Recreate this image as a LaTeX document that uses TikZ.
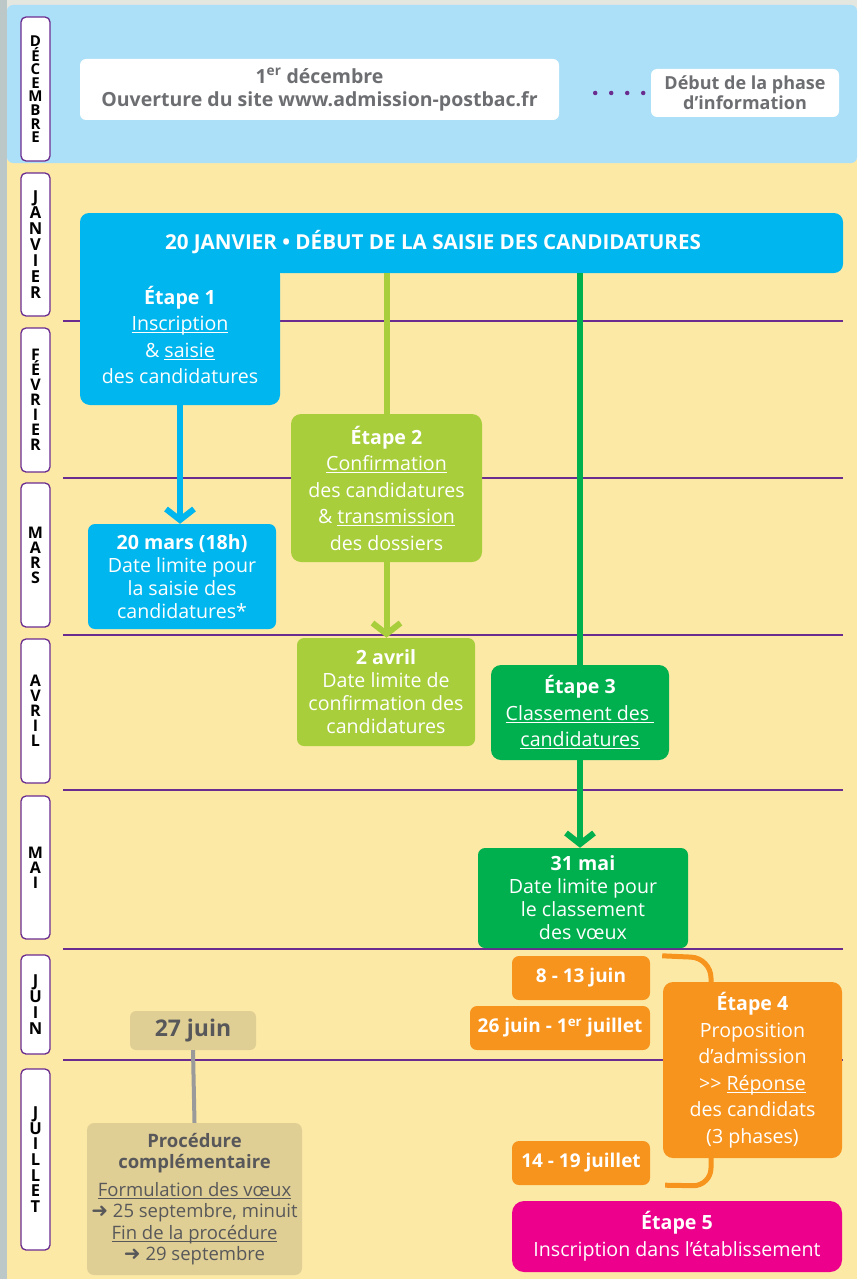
\documentclass[tikz,border=0pt]{standalone}
\usepackage{fontspec}
\setmainfont{Open Sans}
\newfontfamily\djv{DejaVu Sans}
\usetikzlibrary{arrows.meta}
\newcommand\myul[1]{\setbox0=\hbox{#1}\rlap{\rule[-2.6pt]{\wd0}{1.1pt}}\box0}
\definecolor{cbg}{HTML}{E4E6E0}
\definecolor{cstrip}{HTML}{BCC7C8}
\definecolor{clight}{HTML}{ACE0F8}
\definecolor{cyel}{HTML}{FDE9A6}
\definecolor{cpurple}{HTML}{6A2C8F}
\definecolor{cblue}{HTML}{00B6EE}
\definecolor{clgreen}{HTML}{A8CE3B}
\definecolor{cdgreen}{HTML}{00B04F}
\definecolor{corange}{HTML}{F7941D}
\definecolor{cmag}{HTML}{EC008C}
\definecolor{ctan}{HTML}{E0CF95}
\definecolor{cdark}{HTML}{58585A}
\definecolor{cgraytxt}{HTML}{6D6E71}
\definecolor{cline}{HTML}{9A9A9A}
\begin{document}
\begin{tikzpicture}[x=1pt,y=-1pt,
  box/.style={rounded corners=10pt, inner sep=0pt, align=center, text=white},
  etape/.style={box, font=\fontsize{19.6}{26.5}\selectfont},
  datebox/.style={box, rounded corners=7pt, font=\fontsize{19.6}{23}\selectfont},
  junebox/.style={box, fill=corange, rounded corners=7pt, font=\fontsize{19}{22}\selectfont\bfseries},
  month/.style={draw=cpurple, line width=1.3pt, fill=white, rounded corners=5pt, minimum width=29pt, inner sep=0pt, align=center, font=\fontsize{16}{15}\selectfont\bfseries},
  sep/.style={cpurple, line width=2.5pt},
  conn/.style={line width=6pt},
  tipped/.style={-{Straight Barb[length=11pt,width=28pt]}},
]
\useasboundingbox (0,0) rectangle (857,1279);
% backgrounds
\fill[cbg] (0,0) rectangle (857,1279);
\fill[cstrip] (0,0) rectangle (7,1279);
\fill[cyel] (7,160) rectangle (857,1279);
\fill[clight, rounded corners=6pt] (7,5) rectangle (857,163);
% month labels
\node[month, minimum height=144, font=\fontsize{15}{13.6}\selectfont\bfseries] (mdec) at (35.5,89) {D\\É\\C\\E\\M\\B\\R\\E};
\node[month, minimum height=143, font=\fontsize{16.5}{16}\selectfont\bfseries] (mjan) at (35.5,244.5) {J\\A\\N\\V\\I\\E\\R};
\node[month, minimum height=144] (mfev) at (35.5,400) {F\\É\\V\\R\\I\\E\\R};
\node[month, minimum height=144] (mmar) at (35.5,555) {M\\A\\R\\S};
\node[month, minimum height=144] (mavr) at (35.5,711) {A\\V\\R\\I\\L};
\node[month, minimum height=143] (mmai) at (35.5,867.5) {M\\A\\I};
\node[month, minimum height=99, font=\fontsize{16.5}{16}\selectfont\bfseries] (mjuin) at (35.5,1004.5) {J\\U\\I\\N};
\node[month, minimum height=181, font=\fontsize{16.5}{15.7}\selectfont\bfseries] (mjuil) at (35.5,1159.5) {J\\U\\I\\L\\L\\E\\T};
% separators
\foreach \yy in {321,478,635,790,949,1060} \draw[sep] (63,\yy) -- (843,\yy);
% december
\node[fill=white, rounded corners=6pt, minimum width=479, minimum height=61, inner sep=0pt, align=center, text=cgraytxt, font=\fontsize{19.5}{23}\selectfont\bfseries] (open) at (319.5,89.5) {1\textsuperscript{er} décembre\\Ouverture du site www.admission-postbac.fr};
\node[fill=white, rounded corners=6pt, minimum width=188, minimum height=48, inner sep=0pt, align=center, text=cgraytxt, font=\fontsize{18}{20}\selectfont\bfseries] (info) at (745,93) {Début de la phase\\d’information};
\draw[cpurple, line width=4.5pt, line cap=round, dash pattern=on 0pt off 16pt, shorten <=36pt, shorten >=7pt] (open.east |- info.west) -- (info.west);
% boxes
\node[fill=cblue, rounded corners=9pt, minimum width=763, minimum height=60, inner sep=0pt] (bar) at (461.5,243) {};
\fill[cblue] (80,255) rectangle (280,290);
\node[etape, fill=cblue, minimum width=200, minimum height=140] (e1) at (180,335) {\textbf{Étape 1}\\\myul{Inscription}\\\& \myul{saisie}\\des candidatures};
\node[text=white, font=\fontsize{20.6}{22}\selectfont\bfseries] (bartitle) at (433,242) {20 JANVIER • DÉBUT DE LA SAISIE DES CANDIDATURES};
\node[datebox, fill=cblue, minimum width=188, minimum height=105] (m20) at (182,576.5) {\textbf{20 mars (18h)}\\Date limite pour\\la saisie des\\candidatures*};
\node[etape, fill=clgreen, minimum width=191, minimum height=148] (e2) at (386.5,488) {\textbf{Étape 2}\\\myul{Confirmation}\\des candidatures\\\& \myul{transmission}\\des dossiers};
\node[datebox, fill=clgreen, minimum width=178, minimum height=108] (a2) at (386,692) {\textbf{2 avril}\\Date limite de\\confirmation des\\candidatures};
\node[etape, fill=cdgreen, minimum width=178, minimum height=95] (e3) at (580,712.5) {\textbf{Étape 3}\\\myul{Classement des\ }\\\myul{candidatures}};
\node[datebox, fill=cdgreen, minimum width=210, minimum height=100] (m31) at (583,898) {\textbf{31 mai}\\Date limite pour\\le classement\\des vœux};
\node[junebox, minimum width=138, minimum height=44] (j1) at (581,978) {8 - 13 juin};
\node[junebox, minimum width=180, minimum height=44] (j2) at (560,1028) {26 juin - 1\textsuperscript{er} juillet};
\node[junebox, minimum width=138, minimum height=44] (j3) at (581,1163) {14 - 19 juillet};
% bracket
\draw[corange, line width=5pt, rounded corners=20pt] ([xshift=12pt]j1.north east) -- (711,958) -- (711,995);
\draw[corange, line width=5pt, rounded corners=18pt] (711,1150) -- (711,1186) -- ([xshift=15pt]j3.south east);
\node[etape, fill=corange, minimum width=179, minimum height=176] (e4) at (752.5,1070) {\textbf{Étape 4}\\Proposition\\d’admission\\>{}> \myul{Réponse}\\des candidats\\(3 phases)};
\node[etape, fill=cmag, rounded corners=12pt, minimum width=330, minimum height=71, font=\fontsize{19.6}{27}\selectfont] (e5) at (677,1236.5) {\textbf{Étape 5}\\Inscription dans l’établissement};
\node[box, fill=ctan, rounded corners=6pt, minimum width=126, minimum height=39, text=cdark, font=\fontsize{23}{24}\selectfont\bfseries] (p27) at (193,1030.5) {27 juin};
\node[box, fill=ctan, rounded corners=7pt, minimum width=215, minimum height=152, text=cdark, font=\fontsize{18.5}{21.5}\selectfont] (proc) at (194.5,1199) {\textbf{Procédure}\\\textbf{complémentaire}\\[6pt]\myul{Formulation des vœux}\\{\djv\fontsize{20}{21.5}\selectfont ➜} 25 septembre, minuit\\\myul{Fin de la procédure}\\{\djv\fontsize{20}{21.5}\selectfont ➜} 29 septembre};
% connectors
\draw[cblue, conn, tipped] (e1.south) -- (e1.south |- m20.north);
\draw[clgreen, conn] (bar.south -| e2.north) -- (e2.north);
\draw[clgreen, conn, tipped] (e2.south) -- (e2.south |- a2.north);
\draw[cdgreen, conn] (bar.south -| e3.north) -- (e3.north);
\draw[cdgreen, conn, tipped] (e3.south) -- (e3.south |- m31.north);
\draw[cline, line width=4pt] (p27.south) -- (proc.north);
\end{tikzpicture}
\end{document}
